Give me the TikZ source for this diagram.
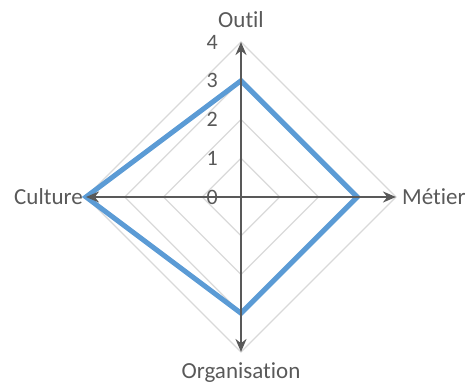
\documentclass[tikz,border=0pt]{standalone}
\usepackage{fontspec}
\setmainfont{Carlito}[Ligatures={NoCommon}]
\usetikzlibrary{arrows.meta}
\definecolor{axisgray}{HTML}{595959}
\definecolor{gridgray}{HTML}{D9D9D9}
\definecolor{seriesblue}{HTML}{5B9BD5}

\begin{document}
\begin{tikzpicture}[x=1pt,y=1pt,
                    axis/.style={axisgray,line width=2.2pt,
                      {Stealth[length=13pt,width=11pt]}-{Stealth[length=13pt,width=11pt]}},
                    ring/.style={gridgray,line width=1.2pt},
                    series/.style={seriesblue,line width=5pt,line join=miter},
                    axislabel/.style={text=axisgray,inner sep=0pt,
                      font=\fontsize{23}{27}\selectfont},
                    ticklabel/.style={text=axisgray,inner sep=0pt,anchor=east,
                      font=\fontsize{22}{26}\selectfont}]
  \useasboundingbox (-241,-188) rectangle (233,197);

  % axis ends
  \coordinate (outil)   at (0,155);
  \coordinate (metier)  at (155,0);
  \coordinate (orga)    at (0,-155);
  \coordinate (culture) at (-155,0);

  % grid rings
  \foreach \k in {1,...,4}
    \draw[ring] (0,38.75*\k) -- (38.75*\k,0) -- (0,-38.75*\k) -- (-38.75*\k,0) -- cycle;

  % values
  \coordinate (vOutil)   at (0,3*38.75);
  \coordinate (vMetier)  at (3*38.75,0);
  \coordinate (vOrga)    at (0,-3*38.75);
  \coordinate (vCulture) at (-4*38.75,0);
  \draw[series] (vOutil) -- (vMetier) -- (vOrga) -- (vCulture) -- cycle;

  % axes
  \draw[axis] (orga) -- (outil);
  \draw[axis] (culture) -- (metier);

  % ticks
  \foreach \k in {0,...,4}
    \node[ticklabel] (tick\k) at (-23,38.75*\k) {\k};

  % labels
  \node[axislabel,anchor=center] (lOutil)   at (0,177)    {Outil};
  \node[axislabel,anchor=west]   (lMetier)  at (161,0)    {Métier};
  \node[axislabel,anchor=east]   (lCulture) at (-158,0)   {Culture};
  \node[axislabel,anchor=center] (lOrga)    at (0,-176)   {Organisation};
\end{tikzpicture}
\end{document}
